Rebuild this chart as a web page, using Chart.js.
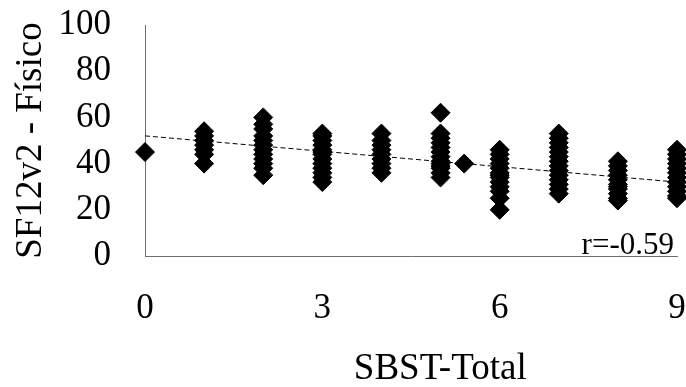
<!DOCTYPE html>
<html>
<head>
<meta charset="utf-8">
<script src="https://cdn.jsdelivr.net/npm/chart.js@4.4.1/dist/chart.umd.min.js"></script>
<style>
  html, body { margin: 0; padding: 0; background: #fff; }
  #wrap { width: 686px; height: 387px; }
</style>
</head>
<body>
<div id="wrap"><canvas id="chart" width="686" height="387"></canvas></div>
<script>
// SBST-Total score (x) and SF12v2 physical score (y), one array per column
const sbstLevels = [0, 1, 2, 3, 4, 5, 6, 7, 8, 9];
const fisico0 = [45];
const fisico1 = [54, 52, 50, 48, 46, 44, 40];
const fisico2 = [60, 57, 55, 52, 50, 48, 46, 44, 42, 40, 38, 35];
const fisico3 = [53, 52, 50, 48, 46, 45, 44, 42, 40, 38, 36, 34, 32];
const fisico4 = [53, 50, 48, 46, 44, 42, 40, 38, 36];
const fisico5 = [62, 53, 51, 49, 47, 45, 43, 41, 40, 39, 38, 36, 34];
const fisico6 = [46, 44, 42, 40, 38, 36, 35, 34, 32, 30, 28, 25, 20];
const fisico7 = [53, 51, 49, 47, 45, 43, 41, 39, 37, 35, 33, 31, 29, 27];
const fisico8 = [41, 39, 37, 35, 33, 31, 30, 29, 27, 25, 24];
const fisico9 = [46, 44, 42, 40, 38, 36, 34, 32, 30, 28, 26, 25];
const extraX = [5.4];
const extraY = [40];

// dashed linear trend line
const trendX = [0, 9];
const trendY = [52, 32];

const xTicks = [0, 3, 6, 9];
const yTicks = [0, 20, 40, 60, 80, 100];
const xTitle = 'SBST-Total';
const yTitle = 'SF12v2 - Físico';
const rLabel = 'r=-0.59';

const columns = [fisico0, fisico1, fisico2, fisico3, fisico4, fisico5, fisico6, fisico7, fisico8, fisico9];
const points = [];
columns.forEach((col, i) => {
    col.forEach(v => points.push({ x: sbstLevels[i], y: v }));
});
extraX.forEach((x, i) => points.push({ x: x, y: extraY[i] }));

const trendPoints = trendX.map((x, i) => ({ x: x, y: trendY[i] }));

const serif = 'Liberation Serif, Times New Roman, serif';

// fixed box sizes; tick labels may hang past the plot edges like in the original
function fixBox(size, key) {
    return scale => {
        scale[key] = size;
        scale.paddingLeft = 0;
        scale.paddingRight = 0;
        scale.paddingTop = 0;
        scale.paddingBottom = 0;
        scale.getPadding = () => ({ left: 0, top: 0, right: 0, bottom: 0 });
    };
}

// correlation text in the plot corner, and the x title (sits right of centre in the original)
const extraText = {
    id: 'extraText',
    afterDatasetsDraw(chart) {
        const ctx = chart.ctx;
        const area = chart.chartArea;
        ctx.save();
        ctx.fillStyle = '#000';
        ctx.textBaseline = 'alphabetic';
        ctx.font = '31px ' + serif;
        ctx.textAlign = 'right';
        ctx.fillText(rLabel, area.right - 3, area.bottom - 2);
        ctx.font = '37px ' + serif;
        ctx.textAlign = 'center';
        ctx.fillText(xTitle, area.left + (area.right - area.left) * 0.555, chart.height - 8);
        ctx.restore();
    }
};

new Chart(document.getElementById('chart').getContext('2d'), {
    type: 'scatter',
    data: {
        datasets: [
            {
                label: yTitle,
                data: points,
                pointStyle: 'rectRot',
                pointRadius: 9.5,
                backgroundColor: '#000',
                borderColor: '#000',
                borderWidth: 1,
                clip: false
            },
            {
                type: 'line',
                label: 'Tendencia',
                data: trendPoints,
                borderColor: '#000',
                borderWidth: 1,
                borderDash: [5, 3],
                pointRadius: 0,
                fill: false
            }
        ]
    },
    options: {
        responsive: false,
        animation: false,
        layout: { autoPadding: false, padding: { top: 25, right: 9, left: 0, bottom: 0 } },
        plugins: {
            legend: { display: false },
            tooltip: { enabled: false }
        },
        scales: {
            x: {
                type: 'linear',
                min: 0,
                max: 9,
                afterBuildTicks: scale => { scale.ticks = xTicks.map(v => ({ value: v })); },
                afterFit: fixBox(131, 'height'),
                grid: { display: false },
                border: { display: true, color: '#6e6e6e', width: 1 },
                ticks: { color: '#000', padding: 24, autoSkip: false, maxRotation: 0, font: { family: serif, size: 35 } },
                title: { display: false }
            },
            y: {
                type: 'linear',
                min: 0,
                max: 100,
                afterBuildTicks: scale => { scale.ticks = yTicks.map(v => ({ value: v })); },
                afterFit: fixBox(145, 'width'),
                grid: { display: false },
                border: { display: true, color: '#6e6e6e', width: 1 },
                ticks: { color: '#000', padding: 26, autoSkip: false, font: { family: serif, size: 35 } },
                title: {
                    display: true,
                    text: yTitle,
                    color: '#000',
                    padding: { top: 9, bottom: 0 },
                    font: { family: serif, size: 37 }
                }
            }
        }
    },
    plugins: [extraText]
});
</script>
</body>
</html>
